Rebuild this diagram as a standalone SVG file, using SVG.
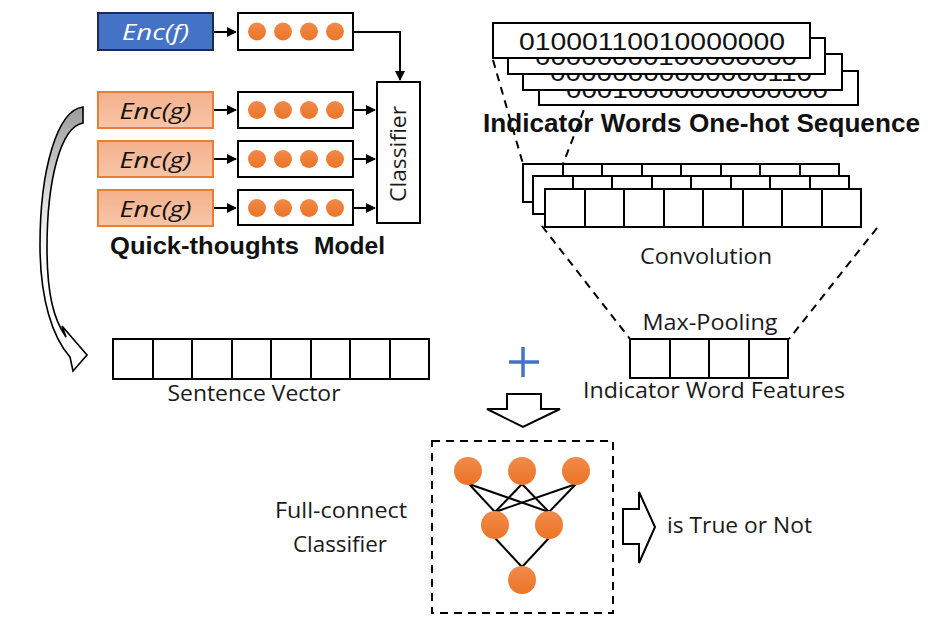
<svg xmlns="http://www.w3.org/2000/svg" width="938" height="632" viewBox="0 0 938 632">
<style>
.bx{fill:#fff;stroke:#000;stroke-width:2}
.cell{fill:none;stroke:#000;stroke-width:2}
.encg{fill:url(#gOr);stroke:#ED7D31;stroke-width:2}
.dot{fill:url(#gDot)}
.ln{stroke:#000;stroke-width:2;fill:none}
.dash{stroke:#000;stroke-width:2;fill:none;stroke-dasharray:8 6}
.cal{font-family:"Open Sans","Liberation Sans",sans-serif;font-size:21px;fill:#1a1a1a}
.enc{font-family:"Open Sans","Liberation Sans",sans-serif;font-size:22px;font-style:italic}
.bold{font-family:"Liberation Sans",Arial,sans-serif;font-weight:bold;fill:#111}
.mono{font-family:"Liberation Sans",Arial,sans-serif;font-size:23px;fill:#111}
</style>
<defs>
<linearGradient id="gOr" x1="0" y1="0" x2="0" y2="1"><stop offset="0" stop-color="#F4B08C"/><stop offset="1" stop-color="#F7C6A8"/></linearGradient>
<linearGradient id="gDot" x1="0" y1="0" x2="0" y2="1"><stop offset="0" stop-color="#F08A4B"/><stop offset="1" stop-color="#EC7426"/></linearGradient>
<linearGradient id="gCurve" gradientUnits="userSpaceOnUse" x1="0" y1="105" x2="0" y2="370"><stop offset="0" stop-color="#9a9a9a"/><stop offset="0.35" stop-color="#dedede"/><stop offset="0.6" stop-color="#fff"/></linearGradient>
<marker id="ah" viewBox="0 0 10 10" refX="9" refY="5" markerWidth="5" markerHeight="5" orient="auto"><path d="M0,0 L10,5 L0,10 z" fill="#000"/></marker>
</defs>

<g id="connectors">
  <line class="ln" x1="213" y1="32" x2="236" y2="32" marker-end="url(#ah)"/>
  <line class="ln" x1="213" y1="110" x2="236" y2="110" marker-end="url(#ah)"/>
  <line class="ln" x1="213" y1="159" x2="236" y2="159" marker-end="url(#ah)"/>
  <line class="ln" x1="213" y1="208" x2="236" y2="208" marker-end="url(#ah)"/>
  <polyline class="ln" points="353,32 400,32 400,80" marker-end="url(#ah)"/>
  <line class="ln" x1="353" y1="110" x2="375" y2="110" marker-end="url(#ah)"/>
  <line class="ln" x1="353" y1="159" x2="375" y2="159" marker-end="url(#ah)"/>
  <line class="ln" x1="353" y1="208" x2="375" y2="208" marker-end="url(#ah)"/>
  <line class="dash" x1="493" y1="60" x2="523" y2="164"/>
  <line class="dash" x1="604" y1="58" x2="563" y2="164"/>
  <line class="dash" x1="542" y1="226" x2="630" y2="339"/>
  <line class="dash" x1="877" y1="228" x2="789" y2="339"/>
  <path d="M83,107 C57,110 40,170 40,245 C40,300 53,338 70,357 L73,371 L87,355 L62,326 L66,337 C54,320 47,295 47,248 C47,182 60,127 83,123 Z" fill="url(#gCurve)" stroke="#000" stroke-width="1.6" stroke-linejoin="miter"/>
  <path d="M507,394 L541,394 L541,409 L560,409 L523,427 L487,409 L507,409 Z" fill="#fff" stroke="#000" stroke-width="2"/>
  <path d="M623,509 L639,509 L639,492 L655,527 L639,563 L639,544 L623,544 Z" fill="#fff" stroke="#000" stroke-width="2"/>
  <g stroke="#4472C4" stroke-width="3.5"><line x1="509" y1="362" x2="539" y2="362"/><line x1="523" y1="347" x2="523" y2="377"/></g>
</g>

<g id="enc-f">
  <rect x="98" y="13" width="115" height="37" fill="#4472C4" stroke="#1F2D4D" stroke-width="2"/>
  <text class="enc" x="155.5" y="40" text-anchor="middle" fill="#fff" textLength="67" lengthAdjust="spacingAndGlyphs">Enc(f)</text>
</g>
<g id="enc-g1">
  <rect class="encg" x="98" y="92" width="115" height="36"/>
  <text class="enc" x="155.5" y="119" text-anchor="middle" fill="#111" textLength="72" lengthAdjust="spacingAndGlyphs">Enc(g)</text>
</g>
<g id="enc-g2">
  <rect class="encg" x="98" y="141" width="115" height="36"/>
  <text class="enc" x="155.5" y="168" text-anchor="middle" fill="#111" textLength="72" lengthAdjust="spacingAndGlyphs">Enc(g)</text>
</g>
<g id="enc-g3">
  <rect class="encg" x="98" y="190" width="115" height="36"/>
  <text class="enc" x="155.5" y="217" text-anchor="middle" fill="#111" textLength="72" lengthAdjust="spacingAndGlyphs">Enc(g)</text>
</g>

<g id="vec-f">
  <rect class="bx" x="238" y="13" width="115" height="37"/>
  <circle class="dot" cx="257" cy="31.5" r="9"/><circle class="dot" cx="283" cy="31.5" r="9"/><circle class="dot" cx="309" cy="31.5" r="9"/><circle class="dot" cx="335" cy="31.5" r="9"/>
</g>
<g id="vec-g1">
  <rect class="bx" x="238" y="92" width="115" height="36"/>
  <circle class="dot" cx="257" cy="110" r="9"/><circle class="dot" cx="283" cy="110" r="9"/><circle class="dot" cx="309" cy="110" r="9"/><circle class="dot" cx="335" cy="110" r="9"/>
</g>
<g id="vec-g2">
  <rect class="bx" x="238" y="141" width="115" height="36"/>
  <circle class="dot" cx="257" cy="159" r="9"/><circle class="dot" cx="283" cy="159" r="9"/><circle class="dot" cx="309" cy="159" r="9"/><circle class="dot" cx="335" cy="159" r="9"/>
</g>
<g id="vec-g3">
  <rect class="bx" x="238" y="190" width="115" height="35"/>
  <circle class="dot" cx="257" cy="208" r="9"/><circle class="dot" cx="283" cy="208" r="9"/><circle class="dot" cx="309" cy="208" r="9"/><circle class="dot" cx="335" cy="208" r="9"/>
</g>

<g id="classifier">
  <rect class="bx" x="377" y="82" width="43" height="141"/>
  <text class="cal" transform="translate(406,154) rotate(-90)" text-anchor="middle" font-size="22" textLength="96" lengthAdjust="spacingAndGlyphs">Classifier</text>
</g>

<g id="qt-label">
  <text class="bold" x="110" y="254" font-size="24" textLength="189" lengthAdjust="spacingAndGlyphs">Quick-thoughts</text>
  <text class="bold" x="385" y="254" font-size="24" text-anchor="end" textLength="71" lengthAdjust="spacingAndGlyphs">Model</text>
</g>

<g id="onehot">
  <rect class="bx" x="539" y="71" width="319" height="34"/>
  <text class="mono" x="566" y="98" textLength="262" lengthAdjust="spacingAndGlyphs">00010000000000000</text>
  <rect class="bx" x="523" y="54" width="319" height="36"/>
  <text class="mono" x="550" y="81" textLength="262" lengthAdjust="spacingAndGlyphs">00000000000000110</text>
  <rect class="bx" x="508" y="38" width="317" height="36"/>
  <text class="mono" x="535" y="65" textLength="262" lengthAdjust="spacingAndGlyphs">00000000100000000</text>
  <rect class="bx" x="493" y="23" width="317" height="35"/>
  <text class="mono" x="519" y="50" textLength="266" lengthAdjust="spacingAndGlyphs">01000110010000000</text>
  <text class="bold" x="483" y="132" font-size="26" textLength="437" lengthAdjust="spacingAndGlyphs">Indicator Words One-hot Sequence</text>
</g>

<g id="convolution">
  <rect class="bx" x="523" y="164" width="316" height="38"/>
  <path class="cell" d="M563,164V202M602,164V202M642,164V202M681,164V202M721,164V202M760,164V202M800,164V202"/>
  <rect class="bx" x="533" y="176" width="316" height="38"/>
  <path class="cell" d="M573,176V214M612,176V214M652,176V214M691,176V214M731,176V214M770,176V214M810,176V214"/>
  <rect class="bx" x="545" y="189" width="316" height="38"/>
  <path class="cell" d="M585,189V227M624,189V227M664,189V227M703,189V227M743,189V227M782,189V227M822,189V227"/>
  <text class="cal" x="706" y="264" text-anchor="middle" textLength="132" lengthAdjust="spacingAndGlyphs">Convolution</text>
</g>

<g id="maxpool">
  <text class="cal" x="710" y="330" text-anchor="middle" textLength="135" lengthAdjust="spacingAndGlyphs">Max-Pooling</text>
  <rect class="bx" x="630" y="339" width="158" height="39"/>
  <path class="cell" d="M670,339V378M709,339V378M749,339V378"/>
  <text class="cal" x="714" y="398" text-anchor="middle" textLength="262" lengthAdjust="spacingAndGlyphs">Indicator Word Features</text>
</g>

<g id="sentence-vector">
  <rect class="bx" x="113" y="339" width="316" height="40"/>
  <path class="cell" d="M153,339V379M192,339V379M232,339V379M271,339V379M311,339V379M350,339V379M390,339V379"/>
  <text class="cal" x="254" y="401" text-anchor="middle" textLength="173" lengthAdjust="spacingAndGlyphs">Sentence Vector</text>
</g>

<g id="fc-classifier">
  <rect x="432" y="441" width="181" height="172" fill="none" stroke="#000" stroke-width="2" stroke-dasharray="8 6"/>
  <g stroke="#000" stroke-width="2">
    <line x1="469" y1="484" x2="495" y2="512"/><line x1="469" y1="484" x2="549" y2="512"/>
    <line x1="522" y1="484" x2="495" y2="512"/><line x1="522" y1="484" x2="549" y2="512"/>
    <line x1="576" y1="484" x2="495" y2="512"/><line x1="576" y1="484" x2="549" y2="512"/>
    <line x1="495" y1="538" x2="522" y2="567"/><line x1="549" y1="538" x2="522" y2="567"/>
  </g>
  <ellipse class="dot" cx="468" cy="471" rx="14" ry="14"/>
  <ellipse class="dot" cx="522" cy="471" rx="14" ry="14"/>
  <ellipse class="dot" cx="576" cy="471" rx="14" ry="14"/>
  <ellipse class="dot" cx="495" cy="525" rx="14" ry="14"/>
  <ellipse class="dot" cx="549" cy="525" rx="14" ry="14"/>
  <ellipse class="dot" cx="522" cy="580" rx="14" ry="14"/>
  <text class="cal" x="341" y="518" text-anchor="middle" textLength="132" lengthAdjust="spacingAndGlyphs">Full-connect</text>
  <text class="cal" x="340" y="552" text-anchor="middle" textLength="94" lengthAdjust="spacingAndGlyphs">Classifier</text>
</g>

<g id="output">
  <text class="cal" x="667" y="533" textLength="145" lengthAdjust="spacingAndGlyphs">is True or Not</text>
</g>
</svg>
